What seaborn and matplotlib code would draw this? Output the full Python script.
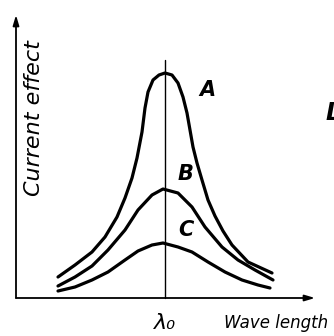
"""Resonance curves: current effect vs wave length."""

import matplotlib.pyplot as plt
import pandas as pd
import seaborn as sns

# offsets from the resonance wave length (arbitrary units) and current effect
X_A = [-1.07, -0.90, -0.73, -0.60, -0.48, -0.40, -0.33, -0.28, -0.23, -0.20, -0.17, -0.12, -0.06, 0.0,
       0.07, 0.13, 0.18, 0.22, 0.25, 0.28, 0.32, 0.37, 0.43, 0.50, 0.58, 0.67, 0.83, 1.07]
Y_A = [0.21, 0.33, 0.46, 0.61, 0.81, 1.00, 1.20, 1.40, 1.66, 1.90, 2.06, 2.18, 2.23, 2.25,
       2.23, 2.15, 2.01, 1.85, 1.68, 1.51, 1.35, 1.18, 0.98, 0.82, 0.67, 0.53, 0.36, 0.25]

X_B = [-1.07, -0.90, -0.73, -0.57, -0.40, -0.27, -0.13, -0.02, 0.13, 0.27, 0.40, 0.57, 0.73, 0.90, 1.08]
Y_B = [0.12, 0.21, 0.32, 0.48, 0.68, 0.88, 1.03, 1.09, 1.05, 0.91, 0.71, 0.51, 0.38, 0.28, 0.18]

X_C = [-1.07, -0.90, -0.73, -0.57, -0.40, -0.27, -0.13, -0.02, 0.13, 0.27, 0.43, 0.60, 0.77, 0.93, 1.05]
Y_C = [0.07, 0.11, 0.18, 0.26, 0.38, 0.47, 0.53, 0.55, 0.51, 0.46, 0.36, 0.26, 0.18, 0.13, 0.10]

CURVE_LABELS = ["A", "B", "C"]

sns.set_style("white")
plt.rcParams["font.family"] = ["DejaVu Sans"]
plt.rcParams["text.color"] = "black"

curves = pd.concat(
    [
        pd.DataFrame({"x": X_A, "y": Y_A, "curve": "A"}),
        pd.DataFrame({"x": X_B, "y": Y_B, "curve": "B"}),
        pd.DataFrame({"x": X_C, "y": Y_C, "curve": "C"}),
    ],
    ignore_index=True,
)

fig = plt.figure(figsize=(3.34, 3.36), dpi=100)
ax = fig.add_axes([0, 0, 1, 1])
sns.lineplot(
    data=curves,
    x="x",
    y="y",
    units="curve",
    estimator=None,
    sort=False,
    color="black",
    linewidth=2.3,
    ax=ax,
    legend=False,
)
for line in ax.lines:
    line.set_solid_joinstyle("round")
    line.set_solid_capstyle("round")

ax.set_xlim(-1.65, 1.69)
ax.set_ylim(-0.38, 2.98)
ax.axis("off")

# axes with arrow heads
arrow = dict(arrowstyle="-|>,head_length=0.6,head_width=0.18", color="black", lw=1.3, shrinkA=0, shrinkB=0)
ax.annotate("", xy=(1.50, 0), xytext=(-1.49, 0), arrowprops=arrow)
ax.annotate("", xy=(-1.49, 2.83), xytext=(-1.49, 0), arrowprops=arrow)
ax.plot([0, 0], [0, 2.38], color="black", linewidth=1.0)

label_pos = {"A": (0.34, 2.08), "B": (0.13, 1.24), "C": (0.13, 0.68)}
for name in CURVE_LABELS:
    ax.text(*label_pos[name], name, fontsize=15, style="italic", fontweight="bold", ha="left", va="center")

ax.text(-1.31, 1.80, "Current effect", rotation=90, fontsize=16, style="italic", ha="center", va="center")
ax.text(0.0, -0.25, "λ₀", fontsize=16, style="italic", ha="center", va="center")
ax.text(0.59, -0.25, "Wave length", fontsize=12, style="italic", ha="left", va="center")
ax.text(1.60, 1.85, "L", fontsize=17, style="italic", fontweight="bold", ha="left", va="center")

fig.savefig("out.png", dpi=100)
